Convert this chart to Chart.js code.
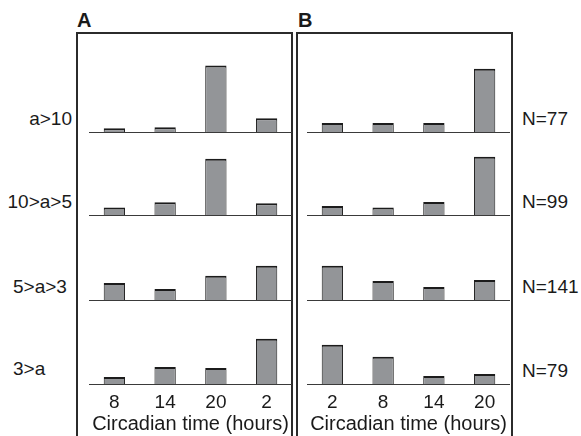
<!DOCTYPE html>
<html>
<head>
<meta charset="utf-8">
<script src="https://cdn.jsdelivr.net/npm/chart.js@4.4.1/dist/chart.umd.min.js"></script>
<style>
    body {
        margin: 0;
        width: 581px;
        height: 436px;
        position: relative;
        overflow: hidden;
        background: #fff;
        font-family: "Liberation Sans", Arial, sans-serif;
        color: #1a1a1a;
    }

    .frame {
        position: absolute;
        top: 32px;
        width: 213px;
        height: 420px;
        border: 2px solid #2b2b2b;
        border-bottom: none;
    }

    .lbl {
        position: absolute;
        font-size: 19px;
        line-height: 19px;
        white-space: nowrap;
    }

    .letter {
        position: absolute;
        font-size: 20px;
        line-height: 20px;
        font-weight: bold;
    }

    canvas {
        position: absolute;
    }
</style>
</head>
<body>

<div class="frame" style="left: 76px;"></div>
<div class="frame" style="left: 296px;"></div>

<div class="letter" style="left: 77px; top: 10px;">A</div>
<div class="letter" style="left: 298px; top: 10px;">B</div>

<div class="lbl" style="right: 509px; top: 109px;">a&gt;10</div>
<div class="lbl" style="right: 509px; top: 192px;">10&gt;a&gt;5</div>
<div class="lbl" style="left: 13px; top: 277px;">5&gt;a&gt;3</div>
<div class="lbl" style="left: 13px; top: 359px;">3&gt;a</div>

<div class="lbl" style="left: 522px; top: 109px;">N=77</div>
<div class="lbl" style="left: 522px; top: 192px;">N=99</div>
<div class="lbl" style="left: 522px; top: 277px;">N=141</div>
<div class="lbl" style="left: 522px; top: 361px;">N=79</div>

<script>
// circadian time categories (hours)
const timesA = ["8", "14", "20", "2"];
const timesB = ["2", "8", "14", "20"];

// panel A, one row per amplitude class
const panelA_gt10 = [4.2, 5.3, 75.3, 15.6];
const panelA_10to5 = [8.5, 14.4, 63.6, 13.3];
const panelA_5to3 = [19.3, 12.5, 27.3, 38.6];
const panelA_lt3 = [8.0, 19.3, 18.2, 51.1];

// panel B
const panelB_gt10 = [10.2, 10.2, 10.2, 71.6];
const panelB_10to5 = [10.2, 8.5, 14.8, 65.9];
const panelB_5to3 = [38.6, 21.6, 14.8, 22.7];
const panelB_lt3 = [44.3, 30.7, 9.1, 11.4];

const yMax = 95;
const xTitle = "Circadian time (hours)";

const rowBaselines = [132, 215, 300, 384];
const rowHeight = 84;
const fontFamily = "'Liberation Sans', Arial, sans-serif";

function createRow({ left, baseline, labels, values, isBottom }) {
    const canvas = document.createElement("canvas");
    const extra = isBottom ? 52 : 2;

    canvas.width = 203;
    canvas.height = rowHeight + extra;
    canvas.style.left = left + "px";
    canvas.style.top = (baseline - rowHeight) + "px";
    document.body.appendChild(canvas);

    new Chart(canvas, {
        type: "bar",
        data: {
            labels: labels,
            datasets: [
                {
                    data: values,
                    backgroundColor: "#939598",
                    borderColor: "#1c1c1c",
                    borderWidth: { top: 2, left: 1, right: 1, bottom: 0 },
                    categoryPercentage: 0.42,
                    barPercentage: 1
                }
            ]
        },
        options: {
            responsive: false,
            animation: false,
            events: [],
            layout: { padding: 0 },
            plugins: {
                legend: { display: false },
                tooltip: { enabled: false }
            },
            scales: {
                x: {
                    grid: { display: false, drawTicks: false },
                    border: { display: true, color: "#3a3a3a", width: 1 },
                    ticks: {
                        display: isBottom,
                        color: "#1a1a1a",
                        padding: 7,
                        maxRotation: 0,
                        font: { family: fontFamily, size: 19 }
                    },
                    title: {
                        display: isBottom,
                        text: xTitle,
                        color: "#1a1a1a",
                        padding: 0,
                        font: { family: fontFamily, size: 20 }
                    },
                    afterFit: scale => {
                        scale.height = extra;
                    }
                },
                y: {
                    display: false,
                    min: 0,
                    max: yMax
                }
            }
        }
    });
}

const rowsA = [panelA_gt10, panelA_10to5, panelA_5to3, panelA_lt3];
const rowsB = [panelB_gt10, panelB_10to5, panelB_5to3, panelB_lt3];

rowsA.forEach((values, i) => {
    createRow({
        left: 89,
        baseline: rowBaselines[i],
        labels: timesA,
        values: values,
        isBottom: i === rowsA.length - 1
    });
});

rowsB.forEach((values, i) => {
    createRow({
        left: 307,
        baseline: rowBaselines[i],
        labels: timesB,
        values: values,
        isBottom: i === rowsB.length - 1
    });
});
</script>
</body>
</html>
